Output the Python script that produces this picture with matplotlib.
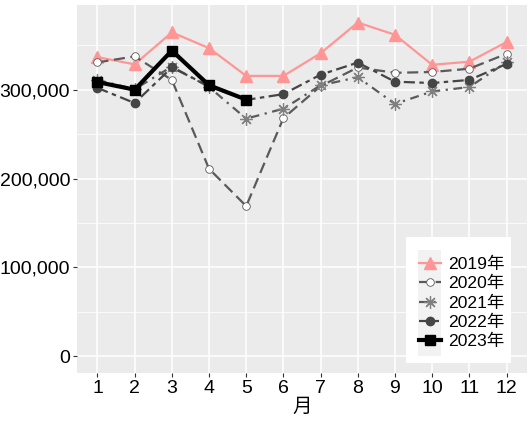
import matplotlib
matplotlib.use('Agg')
import matplotlib.pyplot as plt
from matplotlib.patches import Rectangle
from matplotlib.ticker import FuncFormatter, MultipleLocator

plt.rcParams['font.family'] = ['Liberation Sans', 'Noto Sans CJK JP']

months = list(range(1, 13))
y2019 = [336700, 328500, 364500, 346800, 315500, 315500, 341000, 375600, 361800, 328000, 331500, 353600]
y2020 = [330700, 337500, 311000, 211000, 169000, 268000, 304000, 325000, 319000, 319900, 323600, 340400]
y2021 = [311000, 300500, 326000, 303000, 267400, 278600, 304900, 314000, 284000, 298000, 303000, 331000]
y2022 = [302000, 285000, 325000, 304000, 288500, 295000, 316900, 330500, 309000, 307500, 311000, 329000]
months2023 = [1, 2, 3, 4, 5]
y2023 = [308600, 300000, 344000, 305000, 288800]
labels = ['2019年', '2020年', '2021年', '2022年', '2023年']

FS = 14
LFS = 12.6

fig = plt.figure(figsize=(5.30, 4.21), dpi=100)
ax = fig.add_axes([77 / 530, 48 / 421, 450 / 530, 368 / 421])
ax.set_facecolor('#EBEBEB')
for s in ax.spines.values():
    s.set_visible(False)

h1, = ax.plot(months, y2019, color='#FF9696', lw=1.6, marker='^', ms=8,
              mec='#FF9696', mfc='#FF9696', zorder=3)
h2, = ax.plot(months, y2020, color='#5A5A5A', lw=1.6, dashes=(5, 2.5),
              marker='o', ms=5.5, mfc='white', mec='#5A5A5A', mew=0.6, zorder=3)
h3, = ax.plot(months, y2021, color='#5A5A5A', lw=1.6, dashes=(4, 2.5, 1, 2.5),
              marker=(8, 2, 0), ms=9, mec='#808080', mew=0.9, zorder=3)
h4, = ax.plot(months, y2022, color='#454545', lw=1.6, dashes=(5, 2, 2, 2),
              marker='o', ms=6, mfc='#454545', mec='#454545', zorder=3)
h5, = ax.plot(months2023, y2023, color='black', lw=3, marker='s', ms=6.5,
              mfc='black', mec='black', zorder=3)

ax.set_xlim(0.45, 12.55)
ax.set_ylim(-18800, 395300)
ax.set_xticks(months)
ax.set_yticks([0, 100000, 200000, 300000])
ax.yaxis.set_minor_locator(MultipleLocator(50000))
ax.yaxis.set_major_formatter(FuncFormatter(lambda v, p: f'{int(v):,}'))
ax.grid(which='major', color='white', lw=1.1, zorder=0)
ax.grid(which='minor', axis='y', color='white', lw=0.55, zorder=0)
ax.set_axisbelow(True)
ax.tick_params(which='major', length=3, color='#333333', labelsize=FS,
               labelcolor='black', pad=2)
ax.tick_params(which='minor', length=0)
ax.set_xlabel('月', fontsize=FS, labelpad=1)

# legend box with grey key area, ggplot style
ax.add_patch(Rectangle((0.731, 0.027), 0.233, 0.343, transform=ax.transAxes,
                       facecolor='white', edgecolor='none', zorder=4))
ax.add_patch(Rectangle((0.758, 0.046), 0.050, 0.288, transform=ax.transAxes,
                       facecolor='#F2F2F2', edgecolor='none', zorder=4.5))
leg = ax.legend([h1, h2, h3, h4, h5], labels, loc='center',
                bbox_to_anchor=(0.855, 0.190), frameon=False, fontsize=LFS,
                handlelength=1.25, handletextpad=0.4, labelspacing=0.23,
                borderpad=0.0)
leg.set_zorder(5)

fig.savefig('out.png', dpi=100)
